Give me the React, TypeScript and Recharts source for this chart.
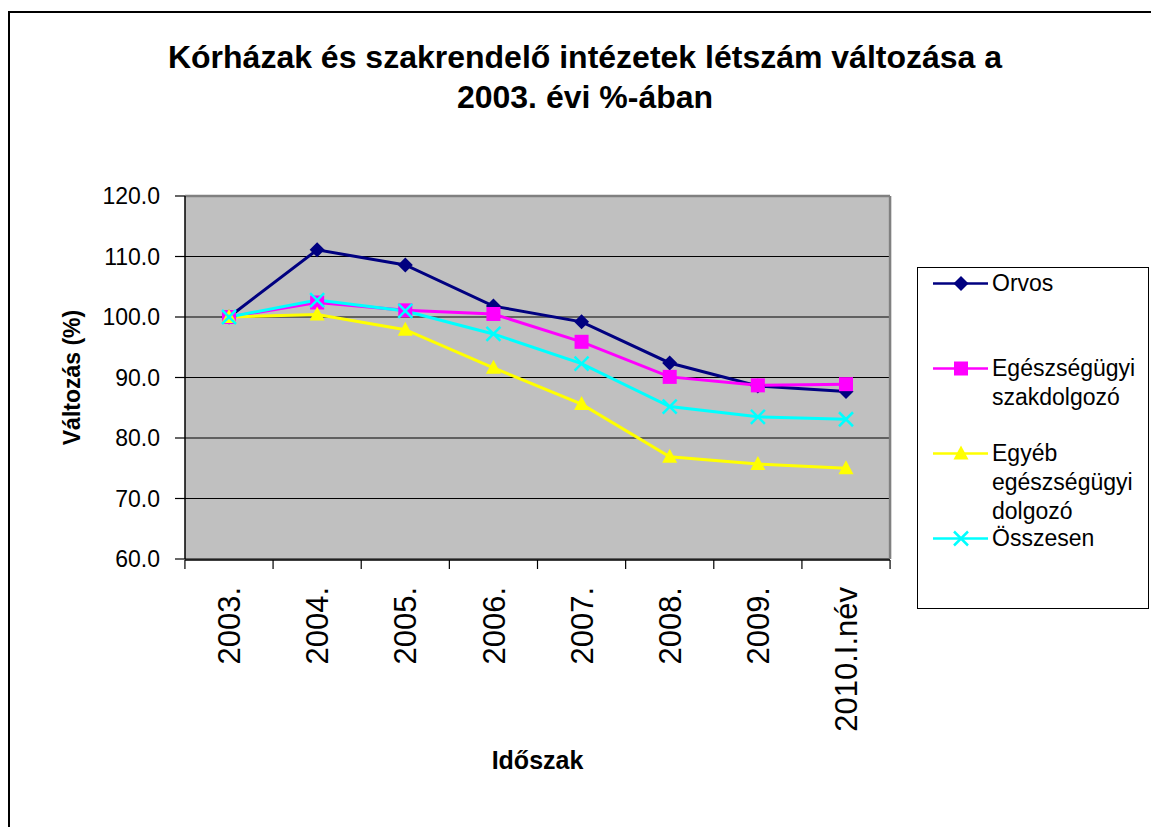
import { CartesianGrid, Label, Legend, Line, LineChart, ReferenceLine, XAxis, YAxis } from "recharts"

const categories = ["2003.", "2004.", "2005.", "2006.", "2007.", "2008.", "2009.", "2010.I.név"]
const orvos = [100, 111.1, 108.6, 101.8, 99.2, 92.4, 88.6, 87.7]
const szakdolgozo = [100, 102.4, 101.1, 100.5, 95.9, 90.1, 88.7, 88.9]
const egyeb = [100, 100.4, 97.9, 91.6, 85.6, 76.9, 75.7, 75.0]
const osszesen = [100, 102.8, 101.0, 97.2, 92.3, 85.2, 83.5, 83.1]
const yTicks = [60, 70, 80, 90, 100, 110, 120]
// category boundaries, in index units (between the category points)
const boundaryTicks = [-0.5, 0.5, 1.5, 2.5, 3.5, 4.5, 5.5, 6.5, 7.5]

const FONT = "'Liberation Sans', Arial, sans-serif"

const data = categories.map((name, i) => ({
  name,
  orvos: orvos[i],
  szakdolgozo: szakdolgozo[i],
  egyeb: egyeb[i],
  osszesen: osszesen[i]
}))

type Shape = "diamond" | "square" | "triangle" | "cross"

const series: { key: string; name: string; color: string; shape: Shape }[] = [
  { key: "orvos", name: "Orvos", color: "#000080", shape: "diamond" },
  { key: "szakdolgozo", name: "Egészségügyi szakdolgozó", color: "#FF00FF", shape: "square" },
  { key: "egyeb", name: "Egyéb egészségügyi dolgozó", color: "#FFFF00", shape: "triangle" },
  { key: "osszesen", name: "Összesen", color: "#00FFFF", shape: "cross" }
]

function Marker({ cx, cy, shape, color }: { cx: number; cy: number; shape: Shape; color: string }) {
  if (shape === "diamond") {
    return <polygon points={`${cx},${cy - 7.5} ${cx + 7.5},${cy} ${cx},${cy + 7.5} ${cx - 7.5},${cy}`} fill={color} />
  }
  if (shape === "square") {
    return <rect x={cx - 7} y={cy - 7} width={14} height={14} fill={color} />
  }
  if (shape === "triangle") {
    return <polygon points={`${cx},${cy - 8} ${cx + 7.5},${cy + 6} ${cx - 7.5},${cy + 6}`} fill={color} />
  }
  return (
    <g stroke={color} strokeWidth={2.5}>
      <line x1={cx - 7} y1={cy - 7} x2={cx + 7} y2={cy + 7} />
      <line x1={cx - 7} y1={cy + 7} x2={cx + 7} y2={cy - 7} />
    </g>
  )
}

function makeDot(shape: Shape, color: string) {
  return (props: { cx?: number; cy?: number; index?: number }) => {
    if (props.cx === undefined || props.cy === undefined) return <g key={props.index} />
    return <Marker key={props.index} cx={props.cx} cy={props.cy} shape={shape} color={color} />
  }
}

function XTick({ x, y, payload }: { x?: number; y?: number; payload?: { value: string } }) {
  return (
    <text
      x={x}
      y={y}
      dy="0.36em"
      textAnchor="end"
      transform={`rotate(-90, ${x}, ${y})`}
      fill="#000"
      fontSize={31}
      fontFamily={FONT}
    >
      {payload?.value}
    </text>
  )
}

function LegendBox() {
  return (
    <div
      style={{
        position: "relative",
        width: 232,
        height: 342,
        boxSizing: "border-box",
        border: "1px solid #000",
        background: "#fff",
        fontFamily: FONT,
        fontSize: 23,
        lineHeight: "29px",
        color: "#000"
      }}
    >
      {series.map((s, i) => (
        <div key={s.key} style={{ position: "absolute", left: 0, top: 1 + i * 85, width: 232 }}>
          <svg width={60} height={29} style={{ position: "absolute", left: 14, top: 0 }}>
            <line x1={1} y1={14.5} x2={56} y2={14.5} stroke={s.color} strokeWidth={2.5} />
            <Marker cx={29} cy={14.5} shape={s.shape} color={s.color} />
          </svg>
          <div style={{ position: "absolute", left: 74, top: 0, width: 156, textAlign: "left" }}>{s.name}</div>
        </div>
      ))}
    </div>
  )
}

export default function App() {
  return (
    <div style={{ position: "absolute", left: 0, top: 0, width: 1151, height: 827, overflow: "hidden", background: "#fff" }}>
      <div
        style={{
          position: "absolute",
          left: 8,
          top: 11,
          right: -4,
          bottom: -4,
          borderLeft: "2px solid #000",
          borderTop: "2px solid #000"
        }}
      />
      <div
        style={{
          position: "absolute",
          left: 85,
          top: 37,
          width: 1000,
          textAlign: "center",
          fontFamily: FONT,
          fontWeight: "bold",
          fontSize: 32,
          lineHeight: "40px",
          color: "#000"
        }}
      >
        Kórházak és szakrendelő intézetek létszám változása a
        <br />
        2003. évi %-ában
      </div>
      <LineChart
        width={1151}
        height={827}
        data={data}
        margin={{ top: 196, right: 261, bottom: 266, left: 65 }}
        style={{ position: "absolute", left: 0, top: 0 }}
      >
        <CartesianGrid vertical={false} fill="#C0C0C0" stroke="#000" strokeWidth={1.2} />
        <XAxis
          xAxisId="grid"
          type="number"
          domain={[0, 7]}
          ticks={boundaryTicks}
          padding={{ left: 44, right: 44 }}
          interval={0}
          tickFormatter={() => ""}
          tickSize={9}
          height={1}
          axisLine={{ stroke: "#000", strokeWidth: 1.5 }}
          tickLine={{ stroke: "#000", strokeWidth: 1.2 }}
        />
        <XAxis
          dataKey="name"
          height={1}
          padding={{ left: 44, right: 44 }}
          axisLine={false}
          tickLine={false}
          tickSize={0}
          tickMargin={28}
          interval={0}
          tick={<XTick />}
        >
          <Label
            value="Időszak"
            position="bottom"
            offset={191}
            style={{ fontFamily: FONT, fontSize: 25, fontWeight: "bold", fill: "#000" }}
          />
        </XAxis>
        <YAxis
          domain={[60, 120]}
          ticks={yTicks}
          width={120}
          tickSize={10}
          tickMargin={15}
          tickFormatter={(v: number) => v.toFixed(1)}
          axisLine={{ stroke: "#000", strokeWidth: 1.5 }}
          tickLine={{ stroke: "#000", strokeWidth: 1.2 }}
          tick={{ fill: "#000", fontSize: 23, fontFamily: FONT }}
        >
          <Label
            value="Változás (%)"
            angle={-90}
            position="insideLeft"
            offset={7}
            style={{ textAnchor: "middle", fontFamily: FONT, fontSize: 23, fontWeight: "bold", fill: "#000" }}
          />
        </YAxis>
        <ReferenceLine y={120} stroke="#808080" strokeWidth={2.5} />
        <ReferenceLine xAxisId="grid" x={7.5} ifOverflow="visible" stroke="#808080" strokeWidth={2.5} />
        {series.map((s) => (
          <Line
            key={s.key}
            dataKey={s.key}
            name={s.name}
            stroke={s.color}
            strokeWidth={3}
            dot={makeDot(s.shape, s.color)}
            activeDot={false}
            isAnimationActive={false}
          />
        ))}
        <Legend
          layout="horizontal"
          align="center"
          verticalAlign="middle"
          content={() => <LegendBox />}
          wrapperStyle={{ position: "absolute", left: 917, top: 267, width: 232, height: 342 }}
        />
      </LineChart>
    </div>
  )
}
